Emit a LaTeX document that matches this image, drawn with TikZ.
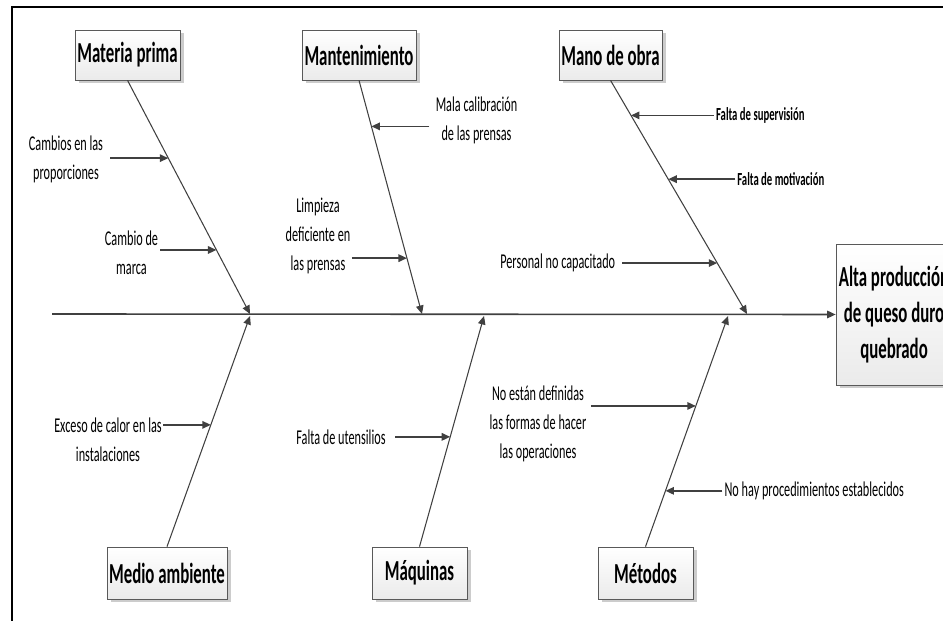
\documentclass[tikz,border=0pt]{standalone}
\usepackage{fontspec}
\setmainfont{Carlito}[FakeStretch=0.58]
\usetikzlibrary{arrows.meta,calc,positioning,shadows}

\newcommand{\efline}[1]{\makebox[2.2cm]{#1}}

\begin{document}
\begin{tikzpicture}[
  categ/.style={draw=black!65, top color=white, bottom color=black!8,
    drop shadow={shadow xshift=0.07cm, shadow yshift=-0.07cm, fill=black!20, opacity=1},
    font=\fontsize{16.5}{18}\selectfont\bfseries, minimum height=1cm, inner sep=0pt},
  bone/.style={draw=black!75, line width=0.6pt, -{Triangle[length=0.17cm,width=0.15cm]}},
  cause/.style={draw=black!75, line width=0.9pt, -{Triangle[length=0.17cm,width=0.15cm]}},
  txt/.style={font=\fontsize{12}{16.5}\selectfont, align=center, inner sep=1pt},
  txtb/.style={font=\fontsize{10.5}{12}\selectfont\bfseries, inner sep=1pt},
]

  \useasboundingbox (0,0) rectangle (18.86,12.42);

  % --- outer frame ---
  \draw[line width=1.4pt] (0.24,-1) -- (0.24,12.28) -- (20,12.28);

  % --- effect and spine ---
  \node[categ, inner xsep=0.06cm, minimum height=2.82cm, align=center,
    font=\fontsize{16.5}{20.5}\selectfont\bfseries] (efecto) at (17.88,6.13)
    {\efline{Alta producción}\\\efline{de queso duro}\\\efline{quebrado}};
  \coordinate (cola) at (1.04,6.14);
  \draw[cause] (cola) -- (efecto.west);

  \coordinate (j1) at (5.00,6.14);
  \coordinate (j2) at (8.44,6.14);
  \coordinate (j3) at (14.94,6.14);
  \coordinate (k1) at (5.00,6.10);
  \coordinate (k2) at (9.68,6.10);
  \coordinate (k3) at (14.56,6.10);

  % --- categories ---
  \node[categ, minimum width=2.1cm]  (materia) at (2.55,11.32) {Materia prima};
  \node[categ, minimum width=2.28cm] (mant)    at (7.18,11.32) {Mantenimiento};
  \node[categ, minimum width=2.06cm] (mano)    at (12.21,11.32) {Mano de obra};
  \node[categ, minimum width=2.4cm, minimum height=1.04cm] (medio)   at (3.34,0.96) {Medio ambiente};
  \node[categ, minimum width=1.9cm, minimum height=1.04cm] (maq)     at (8.39,0.96) {Máquinas};
  \node[categ, minimum width=1.9cm, minimum height=1.04cm] (metodos) at (12.91,0.96) {Métodos};

  \draw[bone] (materia.south) -- (j1);
  \draw[bone] (mant.south) -- (j2);
  \draw[bone] (mano.south) -- (j3);
  \draw[bone] (medio.north) -- (k1);
  \draw[bone] (maq.north) -- (k2);
  \draw[bone] (metodos.north) -- (k3);

  % --- Materia prima ---
  \coordinate (c1) at ($(materia.south)!0.333!(j1)$);
  \coordinate (c2) at ($(materia.south)!0.726!(j1)$);
  \draw[cause] ($(c1)+(-1.16,0)$) coordinate (s1) -- (c1);
  \draw[cause] ($(c2)+(-1.12,0)$) coordinate (s2) -- (c2);
  \node[txt] (t1) at (1.32,9.24) {Cambios en las\\proporciones};
  \node[txt] (t2) at (2.63,7.36) {Cambio de\\marca};

  % --- Mantenimiento ---
  \coordinate (c3) at ($(mant.south)!0.197!(j2)$);
  \coordinate (c4) at ($(mant.south)!0.761!(j2)$);
  \draw[cause] ($(c3)+(1.16,0)$) coordinate (s3) -- (c3);
  \draw[cause] ($(c4)+(-1.1,0)$) coordinate (s4) -- (c4);
  \node[txt] (t3) at (9.53,10.02) {Mala calibración\\de las prensas};
  \node[txt] (t4) at (6.36,7.70) {Limpieza\\deficiente en\\las prensas};

  % --- Mano de obra ---
  \coordinate (c5) at ($(mano.south)!0.15!(j3)$);
  \coordinate (c6) at ($(mano.south)!0.423!(j3)$);
  \coordinate (c7) at ($(mano.south)!0.782!(j3)$);
  \draw[cause] ($(c5)+(1.66,0)$) coordinate (s5) -- (c5);
  \draw[cause] ($(c6)+(1.34,0)$) coordinate (s6) -- (c6);
  \draw[cause] ($(c7)+(-1.9,0)$) coordinate (s7) -- (c7);
  \node[txtb, right=0pt of s5] (t5) {Falta de supervisión};
  \node[txtb, right=0pt of s6] (t6) {Falta de motivación};
  \node[txt, left=0.1cm of s7] (t7) {Personal no capacitado};

  % --- Medio ambiente ---
  \coordinate (c8) at ($(medio.north)!0.528!(k1)$);
  \draw[cause] ($(c8)+(-0.95,0)$) coordinate (s8) -- (c8);
  \node[txt] (t8) at (2.16,3.62) {Exceso de calor en las\\instalaciones};

  % --- Maquinas ---
  \coordinate (c9) at ($(maq.north)!0.476!(k2)$);
  \draw[cause] ($(c9)+(-1.1,0)$) coordinate (s9) -- (c9);
  \node[txt, left=0.15cm of s9] (t9) {Falta de utensilios};

  % --- Metodos ---
  \coordinate (c10) at ($(metodos.north)!0.61!(k3)$);
  \coordinate (c11) at ($(metodos.north)!0.242!(k3)$);
  \draw[cause] ($(c10)+(-2.1,0)$) coordinate (s10) -- (c10);
  \draw[cause] ($(c11)+(1.14,0)$) coordinate (s11) -- (c11);
  \node[txt] (t10) at (10.76,3.94) {No están definidas\\las formas de hacer\\las operaciones};
  \node[txt, right=0pt of s11] (t11) {No hay procedimientos establecidos};

\end{tikzpicture}
\end{document}
